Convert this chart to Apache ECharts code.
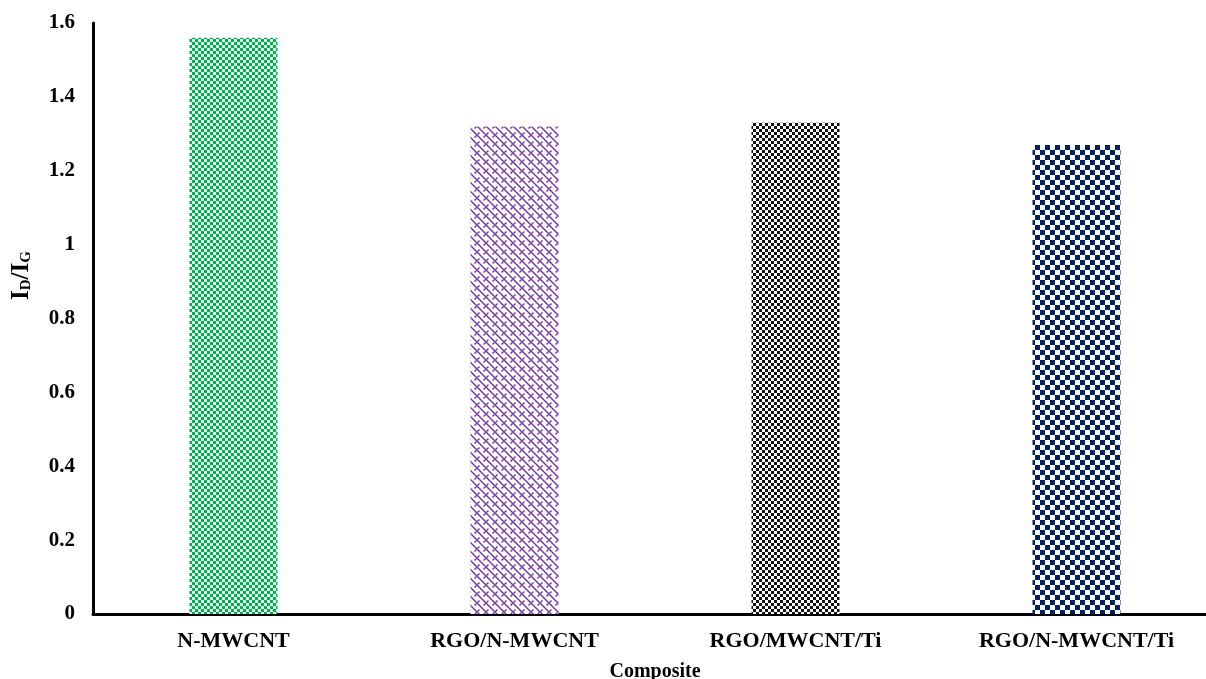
<!DOCTYPE html>
<html><head><meta charset="utf-8">
<script src="https://cdn.jsdelivr.net/npm/echarts@6/dist/echarts.min.js"></script>
<style>html,body{margin:0;padding:0;background:#fff}#c{width:1206px;height:679px}</style>
</head><body><div id="c"></div>
<script>
var categories = ['N-MWCNT', 'RGO/N-MWCNT', 'RGO/MWCNT/Ti', 'RGO/N-MWCNT/Ti'];
var values = [1.56, 1.32, 1.33, 1.27];
var yTicks = [0, 0.2, 0.4, 0.6, 0.8, 1, 1.2, 1.4, 1.6];

function checker(size, fg, bg) {
  var c = document.createElement('canvas');
  c.width = size * 2; c.height = size * 2;
  var g = c.getContext('2d');
  g.fillStyle = bg; g.fillRect(0, 0, c.width, c.height);
  g.fillStyle = fg;
  g.fillRect(0, 0, size, size);
  g.fillRect(size, size, size, size);
  return { image: c, repeat: 'repeat' };
}
function trellis(fg) {
  var s = 9;
  var c = document.createElement('canvas');
  c.width = s; c.height = s;
  var g = c.getContext('2d');
  g.fillStyle = '#fff'; g.fillRect(0, 0, s, s);
  g.strokeStyle = fg; g.lineWidth = 1.4;
  g.beginPath();
  g.moveTo(0, 0); g.lineTo(s, s);
  g.moveTo(-s, 0); g.lineTo(0, s);
  g.moveTo(s, 0); g.lineTo(2 * s, s);
  g.moveTo(6.5, 2.5); g.lineTo(8.5, 0.5);
  g.moveTo(0.5, 8.5); g.lineTo(2.5, 6.5);
  g.stroke();
  return { image: c, repeat: 'repeat' };
}
var fills = [
  checker(3, '#00b050', '#e6f7ec'),
  trellis('#7030a0'),
  checker(3, '#111111', '#ffffff'),
  checker(5, '#002060', '#ffffff')
];

var chart = echarts.init(document.getElementById('c'), null, { renderer: 'canvas' });
var font = '"Liberation Serif","Times New Roman",serif';
chart.setOption({
  animation: false,
  backgroundColor: '#fff',
  grid: { left: 93, right: -11, top: 23, bottom: 65, containLabel: false, outerBoundsMode: 'none' },
  xAxis: {
    type: 'category',
    data: categories,
    axisLine: { lineStyle: { color: '#000', width: 3 } },
    axisTick: { show: false },
    axisLabel: { color: '#000', fontFamily: font, fontWeight: 'bold', fontSize: 22, margin: 16 },
    name: 'Composite',
    nameLocation: 'middle',
    nameGap: 48,
    nameTextStyle: { color: '#000', fontFamily: font, fontWeight: 'bold', fontSize: 20 }
  },
  yAxis: {
    type: 'value',
    min: yTicks[0], max: yTicks[yTicks.length - 1], interval: 0.2,
    splitLine: { show: false },
    axisLine: { show: true, lineStyle: { color: '#000', width: 3 } },
    axisTick: { show: false },
    axisLabel: {
      color: '#000', fontFamily: font, fontWeight: 'bold', fontSize: 21, margin: 18,
      formatter: function (v) { return String(Math.round(v * 10) / 10); }
    },
    name: '{m|I}{s|D}{m|/I}{s|G}',
    nameLocation: 'middle',
    nameRotate: 90,
    nameGap: 59,
    nameTextStyle: {
      padding: [0, 0, 0, 86],
      rich: {
        m: { fontFamily: font, fontWeight: 'bold', fontSize: 25, color: '#000' },
        s: { fontFamily: font, fontWeight: 'bold', fontSize: 15, color: '#000', padding: [10, 0, 0, 0] }
      }
    }
  },
  series: [{
    type: 'bar',
    barWidth: 88,
    data: values.map(function (v, i) { return { value: v, itemStyle: { color: fills[i] } }; })
  }]
});
</script></body></html>
